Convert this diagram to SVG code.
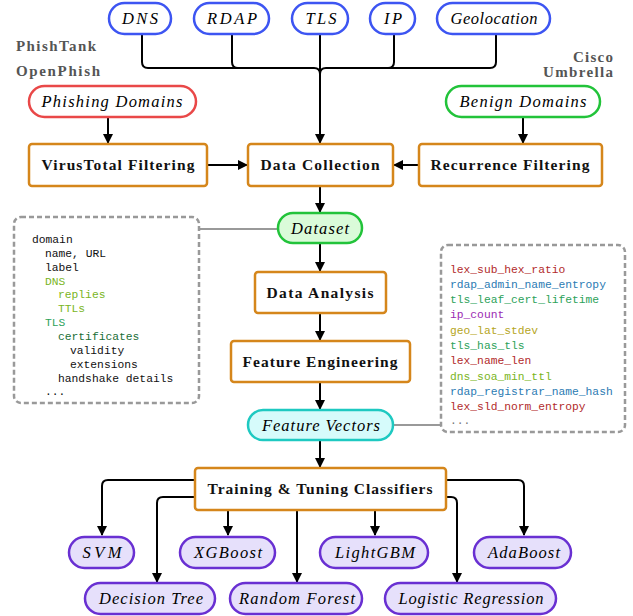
<svg xmlns="http://www.w3.org/2000/svg" width="633" height="616" viewBox="0 0 633 616">
<style>
.pill{stroke-width:2.5}
.src{fill:#fff;stroke:#3d55f2}
.box{fill:#fff;stroke:#d5861b;stroke-width:2.5}
.clf{fill:#e6e0fb;stroke:#6930d2;stroke-width:2.5}
.it{font-family:"Liberation Serif",serif;font-style:italic;font-size:16.5px;fill:#000;text-anchor:middle}
.bd{font-family:"Liberation Serif",serif;font-weight:bold;font-size:15.5px;fill:#111;text-anchor:middle}
.gr{font-family:"Liberation Serif",serif;font-weight:bold;font-size:15px;fill:#555}
.mono{font-family:"Liberation Mono",monospace;font-size:11.3px}
.dash{fill:none;stroke:#999;stroke-width:2.5;stroke-dasharray:5 3}
.con{fill:none;stroke:#000;stroke-width:2}
.gl{fill:none;stroke:#999;stroke-width:2}
</style>
<defs>
<marker id="ah" markerWidth="10" markerHeight="10" refX="9" refY="5" orient="auto" markerUnits="userSpaceOnUse">
<path d="M0,0 L10,5 L0,10 Z" fill="#000"/>
</marker>
</defs>

<g id="connectors">
<path class="con" d="M142,34 V62 Q142,68 148,68 H314 Q320,68 320,74"/>
<path class="con" d="M232,34 V62 Q232,68 238,68"/>
<path class="con" d="M496,34 V62 Q496,68 490,68 H326 Q320,68 320,74"/>
<path class="con" d="M394,34 V62 Q394,68 388,68"/>
<path class="con" d="M320,34 V143" marker-end="url(#ah)"/>
<path class="con" d="M108,117 V143" marker-end="url(#ah)"/>
<path class="con" d="M523,117 V143" marker-end="url(#ah)"/>
<path class="con" d="M207,165 H247" marker-end="url(#ah)"/>
<path class="con" d="M419,165 H394" marker-end="url(#ah)"/>
<path class="con" d="M320,186 V212" marker-end="url(#ah)"/>
<path class="con" d="M320,243 V271" marker-end="url(#ah)"/>
<path class="con" d="M320,313 V340" marker-end="url(#ah)"/>
<path class="con" d="M320,382 V409" marker-end="url(#ah)"/>
<path class="con" d="M320,440 V467" marker-end="url(#ah)"/>
<path class="gl" d="M199,229 H278"/>
<path class="gl" d="M393,425 H441"/>
<path class="con" d="M195,480 H108 Q102,480 102,486 V535" marker-end="url(#ah)"/>
<path class="con" d="M195,497 H163 Q157,497 157,503 V582" marker-end="url(#ah)"/>
<path class="con" d="M228,510 V535" marker-end="url(#ah)"/>
<path class="con" d="M297,510 V582" marker-end="url(#ah)"/>
<path class="con" d="M375,510 V535" marker-end="url(#ah)"/>
<path class="con" d="M446,497 H451 Q457,497 457,503 V582" marker-end="url(#ah)"/>
<path class="con" d="M446,480 H518 Q524,480 524,486 V535" marker-end="url(#ah)"/>
</g>

<g id="labels">
<text class="gr" x="16" y="51" textLength="80">PhishTank</text>
<text class="gr" x="16" y="76" textLength="84">OpenPhish</text>
<text class="gr" x="573" y="62" textLength="40">Cisco</text>
<text class="gr" x="543" y="77" textLength="70">Umbrella</text>
</g>

<g id="dns"><rect class="pill src" x="109" y="3" width="62" height="31" rx="15.5"/><text class="it" x="140" y="24" textLength="36">DNS</text></g>
<g id="rdap"><rect class="pill src" x="194" y="3" width="75" height="31" rx="15.5"/><text class="it" x="232" y="24" textLength="50">RDAP</text></g>
<g id="tls"><rect class="pill src" x="292" y="3" width="56" height="31" rx="15.5"/><text class="it" x="321" y="24" textLength="31">TLS</text></g>
<g id="ip"><rect class="pill src" x="370" y="3" width="45" height="31" rx="15.5"/><text class="it" x="393" y="24" textLength="18">IP</text></g>
<g id="geolocation"><rect class="pill src" x="437" y="3" width="113" height="31" rx="15.5"/><text class="it" x="494" y="24" textLength="87">Geolocation</text></g>

<g id="phishing-domains"><rect class="pill" fill="#fff" stroke="#e94848" x="29" y="86" width="167" height="31" rx="15.5"/><text class="it" x="112" y="107" textLength="141">Phishing Domains</text></g>
<g id="benign-domains"><rect class="pill" fill="#fff" stroke="#22c33a" x="446" y="86" width="154" height="31" rx="15.5"/><text class="it" x="523" y="107" textLength="127">Benign Domains</text></g>

<g id="virustotal"><rect class="box" x="29" y="144" width="178" height="42" rx="3"/><text class="bd" x="118" y="170" textLength="153">VirusTotal Filtering</text></g>
<g id="data-collection"><rect class="box" x="248" y="144" width="145" height="42" rx="3"/><text class="bd" x="320" y="170" textLength="119">Data Collection</text></g>
<g id="recurrence"><rect class="box" x="419" y="144" width="183" height="42" rx="3"/><text class="bd" x="510" y="170" textLength="159">Recurrence Filtering</text></g>

<g id="dataset"><rect class="pill" fill="#dafbd9" stroke="#22c33a" x="278" y="213" width="84" height="30" rx="15"/><text class="it" x="320" y="234" textLength="58">Dataset</text></g>

<g id="schema-box">
<rect class="dash" x="14" y="217" width="185" height="186" rx="7"/>
<text class="mono" x="32" y="243" fill="#111">domain</text>
<text class="mono" x="45" y="257" fill="#111">name, URL</text>
<text class="mono" x="45" y="271" fill="#111">label</text>
<text class="mono" x="45" y="285" fill="#7ab51d">DNS</text>
<text class="mono" x="58" y="298" fill="#7ab51d">replies</text>
<text class="mono" x="58" y="312" fill="#7ab51d">TTLs</text>
<text class="mono" x="45" y="326" fill="#2ca25a">TLS</text>
<text class="mono" x="58" y="340" fill="#1a6e36">certificates</text>
<text class="mono" x="70" y="354" fill="#111">validity</text>
<text class="mono" x="70" y="368" fill="#111">extensions</text>
<text class="mono" x="58" y="382" fill="#111">handshake details</text>
<text class="mono" x="45" y="395" fill="#111">...</text>
</g>

<g id="data-analysis"><rect class="box" x="255" y="272" width="131" height="41" rx="3"/><text class="bd" x="320" y="298" textLength="107">Data Analysis</text></g>
<g id="feature-engineering"><rect class="box" x="231" y="341" width="179" height="41" rx="3"/><text class="bd" x="320" y="367" textLength="155">Feature Engineering</text></g>

<g id="feature-vectors"><rect class="pill" fill="#d6fbfb" stroke="#1ec9c1" x="248" y="410" width="145" height="30" rx="15"/><text class="it" x="321" y="431" textLength="118">Feature Vectors</text></g>

<g id="features-box">
<rect class="dash" x="441" y="245" width="184" height="187" rx="7"/>
<text class="mono" x="450" y="273" fill="#b22b2b">lex_sub_hex_ratio</text>
<text class="mono" x="450" y="288" fill="#2c7bb3">rdap_admin_name_entropy</text>
<text class="mono" x="450" y="303" fill="#2ca25a">tls_leaf_cert_lifetime</text>
<text class="mono" x="450" y="318" fill="#9b2bb3">ip_count</text>
<text class="mono" x="450" y="334" fill="#b5a51d">geo_lat_stdev</text>
<text class="mono" x="450" y="349" fill="#2ca25a">tls_has_tls</text>
<text class="mono" x="450" y="364" fill="#b22b2b">lex_name_len</text>
<text class="mono" x="450" y="380" fill="#7ab51d">dns_soa_min_ttl</text>
<text class="mono" x="450" y="395" fill="#2c7bb3">rdap_registrar_name_hash</text>
<text class="mono" x="450" y="410" fill="#b22b2b">lex_sld_norm_entropy</text>
<text class="mono" x="450" y="424" fill="#777">...</text>
</g>

<g id="training"><rect class="box" x="195" y="468" width="251" height="42" rx="3"/><text class="bd" x="320" y="494" textLength="225">Training &amp; Tuning Classifiers</text></g>

<g id="svm"><rect class="clf" x="69" y="537" width="65" height="31" rx="15.5"/><text class="it" x="102" y="558" textLength="39">SVM</text></g>
<g id="xgboost"><rect class="clf" x="180" y="537" width="95" height="31" rx="15.5"/><text class="it" x="228" y="558" textLength="68">XGBoost</text></g>
<g id="lightgbm"><rect class="clf" x="320" y="537" width="108" height="31" rx="15.5"/><text class="it" x="375" y="558" textLength="80">LightGBM</text></g>
<g id="adaboost"><rect class="clf" x="474" y="537" width="97" height="31" rx="15.5"/><text class="it" x="524" y="558" textLength="72">AdaBoost</text></g>
<g id="decision-tree"><rect class="clf" x="85" y="583" width="130" height="31" rx="15.5"/><text class="it" x="151" y="604" textLength="104">Decision Tree</text></g>
<g id="random-forest"><rect class="clf" x="230" y="583" width="132" height="31" rx="15.5"/><text class="it" x="297" y="604" textLength="116">Random Forest</text></g>
<g id="logistic-regression"><rect class="clf" x="385" y="583" width="171" height="31" rx="15.5"/><text class="it" x="471" y="604" textLength="145">Logistic Regression</text></g>
</svg>
